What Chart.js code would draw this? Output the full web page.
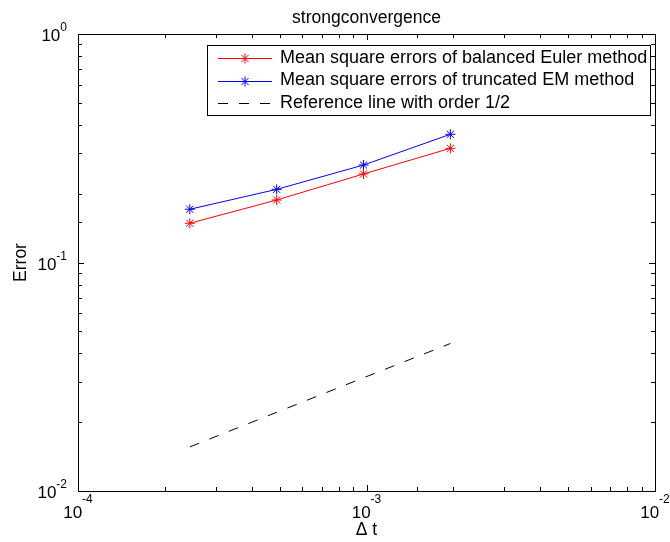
<!DOCTYPE html>
<html>
<head>
<meta charset="utf-8">
<script src="https://cdn.jsdelivr.net/npm/chart.js@4.4.0/dist/chart.umd.min.js"></script>
<style>
body{margin:0;background:#fff}
</style>
</head>
<body>
<canvas id="chart" width="670" height="542"></canvas>
<script>
// step sizes (2^-12 .. 2^-9)
var dtValues = [0.000244140625, 0.00048828125, 0.0009765625, 0.001953125];
var balancedEuler = [0.1485, 0.1877, 0.244, 0.316];
var truncatedEM = [0.171, 0.209, 0.267, 0.364];
var referenceLine = [0.0156, 0.0221, 0.0313, 0.0442];

var xTickValues = [1e-4, 1e-3, 1e-2];
var xTickExps = ['-4', '-3', '-2'];
var yTickValues = [1e-2, 1e-1, 1];
var yTickExps = ['-2', '-1', '0'];

var chartTitle = 'strongconvergence';
var xTitle = '\u0394 t';
var yTitle = 'Error';

var FONT = '"Liberation Sans", Arial, sans-serif';

function pts(ys){
	return dtValues.map(function(x, i){ return {x: x, y: ys[i]}; });
}

function isDecade(v){
	var l = Math.log10(v);
	return Math.abs(l - Math.round(l)) < 1e-6;
}

var matlabAxes = {
	id: 'matlabAxes',
	afterDatasetsDraw: function(chart){
		var c = chart.ctx, a = chart.chartArea;
		var xs = chart.scales.x, ys = chart.scales.y;
		c.save();
		c.strokeStyle = '#000';
		c.lineWidth = 1;
		// ticks, inward on all sides
		c.beginPath();
		xs.ticks.forEach(function(t){
			var px = Math.round(xs.getPixelForValue(t.value)) + 0.5;
			var len = isDecade(t.value) ? 6 : 4;
			c.moveTo(px, a.bottom); c.lineTo(px, a.bottom - len);
			c.moveTo(px, a.top); c.lineTo(px, a.top + len);
		});
		ys.ticks.forEach(function(t){
			var py = Math.round(ys.getPixelForValue(t.value)) + 0.5;
			var len = isDecade(t.value) ? 6 : 4;
			c.moveTo(a.left, py); c.lineTo(a.left + len, py);
			c.moveTo(a.right, py); c.lineTo(a.right - len, py);
		});
		c.stroke();
		// box
		c.strokeRect(Math.round(a.left) + 0.5, Math.round(a.top) + 0.5,
			Math.round(a.right - a.left), Math.round(a.bottom - a.top));

		c.fillStyle = '#000';
		c.textBaseline = 'alphabetic';
		// x tick labels
		xTickValues.forEach(function(v, i){
			var px = xs.getPixelForValue(v);
			c.font = '17px ' + FONT;
			var w1 = c.measureText('10').width;
			c.font = '12px ' + FONT;
			var w2 = c.measureText(xTickExps[i]).width;
			var x0 = px - (w1 + w2) / 2;
			c.textAlign = 'left';
			c.font = '17px ' + FONT;
			c.fillText('10', x0, 518);
			c.font = '12px ' + FONT;
			c.fillText(xTickExps[i], x0 + w1, 503);
		});
		// y tick labels
		yTickValues.forEach(function(v, i){
			var py = ys.getPixelForValue(v);
			c.textAlign = 'right';
			c.font = '12px ' + FONT;
			var w2 = c.measureText(yTickExps[i]).width;
			c.fillText(yTickExps[i], 67, py - 3);
			c.font = '17px ' + FONT;
			c.fillText('10', 67 - w2, py + 7);
		});
		// titles
		c.font = '17.5px ' + FONT;
		c.textAlign = 'center';
		c.textBaseline = 'middle';
		c.fillText(chartTitle, (a.left + a.right) / 2, 18);
		c.fillText(xTitle, (a.left + a.right) / 2, 530);
		c.translate(21, (a.top + a.bottom) / 2);
		c.rotate(-Math.PI / 2);
		c.fillText(yTitle, 0, 0);
		c.restore();
	},
	afterDraw: function(chart){
		var c = chart.ctx;
		var box = {l: 207, t: 45, r: 650, b: 115};
		var rows = [58, 80.5, 103];
		c.save();
		c.fillStyle = '#fff';
		c.fillRect(box.l, box.t, box.r - box.l, box.b - box.t);
		c.strokeStyle = '#000';
		c.lineWidth = 1;
		c.strokeRect(box.l + 0.5, box.t + 0.5, box.r - box.l, box.b - box.t);
		chart.data.datasets.forEach(function(ds, i){
			var y = Math.round(rows[i]) + 0.5;
			c.strokeStyle = ds.borderColor;
			c.lineWidth = ds.borderWidth;
			c.setLineDash(ds.borderDash || []);
			c.beginPath();
			c.moveTo(218, y); c.lineTo(272, y);
			c.stroke();
			c.setLineDash([]);
			if (ds.pointRadius > 0) {
				c.fillStyle = ds.borderColor;
				Chart.helpers.drawPoint(c, {pointStyle: ds.pointStyle, radius: ds.pointRadius, rotation: 0, borderWidth: 1}, 245, y);
			}
			c.fillStyle = '#000';
			c.font = '18px ' + FONT;
			c.textAlign = 'left';
			c.textBaseline = 'middle';
			c.fillText(ds.label, 280, rows[i]);
		});
		c.restore();
	}
};

var myChart = new Chart(document.getElementById('chart'), {
	type: 'line',
	data: {
		datasets: [
			{
				label: 'Mean square errors of balanced Euler method',
				data: pts(balancedEuler),
				borderColor: '#ff0000',
				backgroundColor: '#ff0000',
				borderWidth: 1,
				pointStyle: 'star',
				pointRadius: 5,
				pointBorderWidth: 1
			},
			{
				label: 'Mean square errors of truncated EM method',
				data: pts(truncatedEM),
				borderColor: '#0000ff',
				backgroundColor: '#0000ff',
				borderWidth: 1,
				pointStyle: 'star',
				pointRadius: 5,
				pointBorderWidth: 1
			},
			{
				label: 'Reference line with order 1/2',
				data: pts(referenceLine),
				borderColor: '#000000',
				borderWidth: 1,
				borderDash: [10, 11],
				pointRadius: 0
			}
		]
	},
	options: {
		responsive: false,
		animation: false,
		layout: {padding: {top: 34, right: 15, left: 0, bottom: 0}},
		plugins: {
			legend: {display: false},
			title: {display: false},
			tooltip: {enabled: false}
		},
		scales: {
			x: {
				type: 'logarithmic',
				min: 1e-4,
				max: 1e-2,
				grid: {display: false},
				border: {display: false},
				ticks: {display: false},
				afterFit: function(s){ s.height = 51; }
			},
			y: {
				type: 'logarithmic',
				min: 1e-2,
				max: 1,
				grid: {display: false},
				border: {display: false},
				ticks: {display: false},
				afterFit: function(s){ s.width = 78; }
			}
		}
	},
	plugins: [matlabAxes]
});
</script>
</body>
</html>
